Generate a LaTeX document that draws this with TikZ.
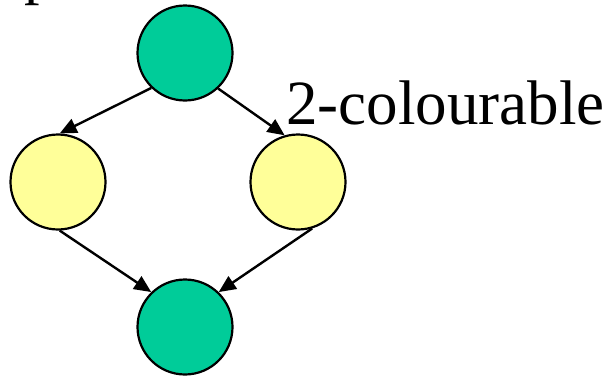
\documentclass[tikz,border=0pt]{standalone}
\usepackage{fontspec}
\setmainfont{Liberation Serif}
\usetikzlibrary{arrows.meta}
\definecolor{vgreen}{RGB}{0,204,153}
\definecolor{vyellow}{RGB}{255,255,153}
\begin{document}
\begin{tikzpicture}[x=1pt,y=-1pt,
  vertex/.style={circle,draw=black,line width=2.2pt,minimum size=95pt,inner sep=0pt},
  edge/.style={line width=2.4pt,-{Triangle[length=17pt,width=15pt]}}]
\useasboundingbox (0,0) rectangle (612,375);
% title fragment at the top edge
\begin{scope}
\clip (0,0) rectangle (612,375);
\node[anchor=base,inner sep=0pt,font=\fontsize{62}{70}\selectfont] (title) at (40,-8) {p};
\end{scope}
% graph vertices
\node[vertex,fill=vgreen]  (top)    at (185,53)  {};
\node[vertex,fill=vyellow] (left)   at (58,182)  {};
\node[vertex,fill=vyellow] (right)  at (298,182) {};
\node[vertex,fill=vgreen]  (bottom) at (185,327) {};
% directed edges
\draw[edge] (top.226) -- (left.88);
\draw[edge] (top.313) -- (right.106);
\draw[edge] (left.272) -- (bottom.134);
\draw[edge] (right.287) -- (bottom.46);
% label
\node[anchor=base west,inner sep=0pt,font=\fontsize{63}{72}\selectfont] (lbl) at (286,124) {2-colourable};
\end{tikzpicture}
\end{document}
